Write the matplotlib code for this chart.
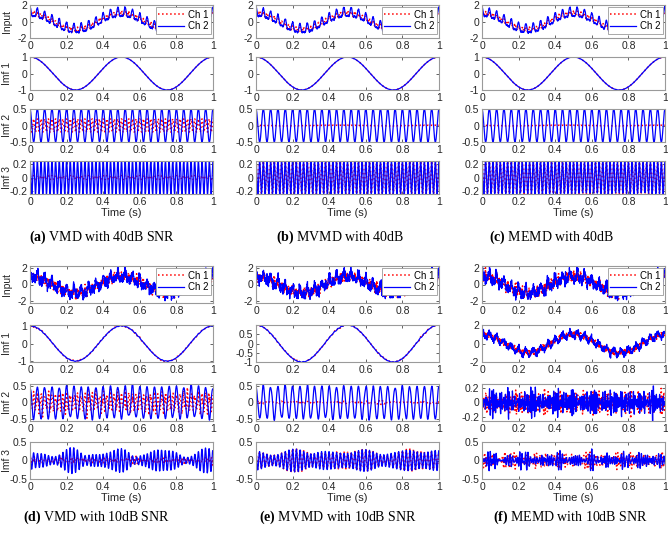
import numpy as np
import matplotlib
import matplotlib.pyplot as plt
matplotlib.use('Agg')

plt.rcParams['font.family'] = ['Liberation Sans', 'DejaVu Sans']
plt.rcParams['axes.unicode_minus'] = False
plt.rcParams['mathtext.fontset'] = 'custom'
plt.rcParams['mathtext.rm'] = 'Liberation Serif'
plt.rcParams['mathtext.bf'] = 'Liberation Serif:bold'

# time axis (1 s at 1 kHz)
t = np.linspace(0, 1, 1000)

# signal components: frequency (Hz) and amplitude
BASE_HZ = 2
MID_HZ = 25
HIGH_HZ = 50
CH1_AMPS = [1.0, 0.0, 0.25]   # 2 Hz, 25 Hz, 50 Hz
CH2_AMPS = [1.0, 0.5, 0.25]

# broadband "noise" made of fixed tones
NOISE_HZ = [31, 43, 61, 67, 83, 97, 109, 131, 149, 163, 181, 199,
            227, 241, 263, 293, 317, 349, 373, 401, 431, 457, 479, 491]
NOISE_BAND_HZ = [71, 79, 88, 94, 103, 112, 118, 127, 136, 141, 152, 160]
NOISE_LOW_HZ = [58, 63, 69, 74, 81, 86, 92, 99]
NOISE_MID_HZ = [41, 44, 47, 49, 53, 56, 58, 62]
# slow envelope tones (Hz, amplitude) seen on the 50 Hz modes
ENV_D = [(46, 0.07), (54, 0.06), (57, 0.04)]
ENV_E = [(45, 0.05), (53, 0.05), (47, 0.03)]

panel_tags = ['a', 'b', 'c', 'd', 'e', 'f']
panel_titles = ['VMD with 40dB SNR', 'MVMD with 40dB', 'MEMD with 40dB',
                'VMD with 10dB SNR', 'MVMD with 10dB SNR', 'MEMD with 10dB SNR']
row_names = ['Input', 'Imf 1', 'Imf 2', 'Imf 3']


def tone(f, a, ph=0.0):
    return a * np.cos(2 * np.pi * f * t + ph)


def noise(freqs, seed, scale):
    k = np.arange(len(freqs))
    ph = np.mod(np.sin(k * 12.9898 + seed * 78.233) * 43758.5453, 1.0) * 2 * np.pi
    amp = 0.6 + 0.4 * np.mod(np.sin(k * 4.1414 + seed * 3.17) * 9631.77, 1.0)
    s = sum(a * np.cos(2 * np.pi * f * t + p) for f, a, p in zip(freqs, amp, ph))
    return scale * s / s.std()


def beats(pairs, ph0=0.0):
    return sum(tone(f, a, ph0 + i * 1.3) for i, (f, a) in enumerate(pairs))


def mix(amps):
    return tone(BASE_HZ, amps[0]) + tone(MID_HZ, amps[1]) + tone(HIGH_HZ, amps[2])


in1 = mix(CH1_AMPS)
in2 = mix(CH2_AMPS)
imf1 = tone(BASE_HZ, 1.0)

# per panel: list of (ch1, ch2) for Input, Imf 1, Imf 2, Imf 3
data = []
# (a) VMD 40dB
data.append([(in1 + noise(NOISE_HZ, 1, 0.04), in2 + noise(NOISE_HZ, 2, 0.04)),
             (imf1, imf1),
             (tone(HIGH_HZ, 0.2), tone(MID_HZ, 0.5)),
             (tone(HIGH_HZ, 0.03), tone(HIGH_HZ, 0.25))])
# (b) MVMD 40dB
data.append([(in1 + noise(NOISE_HZ, 3, 0.04), in2 + noise(NOISE_HZ, 4, 0.04)),
             (imf1, imf1),
             (tone(HIGH_HZ, 0.01), tone(MID_HZ, 0.5)),
             (tone(HIGH_HZ, 0.25), tone(HIGH_HZ, 0.25))])
# (c) MEMD 40dB
data.append([(in1 + noise(NOISE_HZ, 5, 0.04), in2 + noise(NOISE_HZ, 6, 0.04)),
             (imf1, imf1),
             (tone(HIGH_HZ, 0.01), tone(MID_HZ, 0.5)),
             (tone(HIGH_HZ, 0.245) + noise(NOISE_MID_HZ, 7, 0.006),
              tone(HIGH_HZ, 0.245) + noise(NOISE_MID_HZ, 8, 0.006))])
# (d) VMD 10dB
data.append([(in1 + noise(NOISE_HZ, 11, 0.25), in2 + noise(NOISE_HZ, 12, 0.3)),
             (imf1 + noise(NOISE_MID_HZ, 13, 0.02), imf1 + noise(NOISE_MID_HZ, 14, 0.01)),
             (tone(HIGH_HZ, 0.22) + noise(NOISE_BAND_HZ, 15, 0.08),
              tone(MID_HZ, 0.47) + noise(NOISE_MID_HZ, 16, 0.03)),
             (tone(HIGH_HZ, 0.03) + noise(NOISE_LOW_HZ, 17, 0.045),
              tone(HIGH_HZ, 0.2) + beats(ENV_D))])
# (e) MVMD 10dB
data.append([(in1 + noise(NOISE_HZ, 21, 0.25), in2 + noise(NOISE_HZ, 22, 0.3)),
             (imf1 + noise(NOISE_MID_HZ, 23, 0.02), imf1 + noise(NOISE_MID_HZ, 24, 0.01)),
             (noise(NOISE_MID_HZ, 25, 0.02),
              tone(MID_HZ, 0.48) + noise(NOISE_MID_HZ, 26, 0.03)),
             (tone(HIGH_HZ, 0.22) + beats(ENV_E, 0.4),
              tone(HIGH_HZ, 0.22) + beats(ENV_E))])
# (f) MEMD 10dB
data.append([(in1 + noise(NOISE_HZ, 31, 0.25), in2 + noise(NOISE_HZ, 32, 0.3)),
             (imf1 + noise(NOISE_HZ, 33, 0.15),
              imf1 + tone(MID_HZ, 0.35) + noise(NOISE_HZ, 34, 0.15)),
             (noise(NOISE_BAND_HZ, 35, 0.07), noise(NOISE_BAND_HZ, 36, 0.08)),
             (noise(NOISE_LOW_HZ, 37, 0.1), noise(NOISE_LOW_HZ, 38, 0.1))])

# y limits and ticks per panel/row
ylims = [
    [(-2, 2), (-1, 1), (-0.5, 0.5), (-0.25, 0.25)],
    [(-2, 2), (-1, 1), (-0.5, 0.5), (-0.25, 0.25)],
    [(-2, 2), (-1, 1), (-0.5, 0.5), (-0.25, 0.25)],
    [(-2.3, 2.3), (-1.05, 1.05), (-0.55, 0.55), (-0.5, 0.5)],
    [(-2.3, 2.3), (-1.0, 1.0), (-0.55, 0.55), (-0.5, 0.5)],
    [(-2.2, 2.2), (-2, 2), (-0.25, 0.25), (-0.5, 0.5)],
]
yticks = [
    [[-2, 0, 2], [-1, 0, 1], [-0.5, 0, 0.5], [-0.2, 0, 0.2]],
    [[-2, 0, 2], [-1, 0, 1], [-0.5, 0, 0.5], [-0.2, 0, 0.2]],
    [[-2, 0, 2], [-1, 0, 1], [-0.5, 0, 0.5], [-0.2, 0, 0.2]],
    [[-2, 0, 2], [-1, 0, 1], [-0.5, 0, 0.5], [-0.5, 0, 0.5]],
    [[-2, 0, 2], [-1, -0.5, 0, 0.5], [-0.5, 0, 0.5], [-0.5, 0, 0.5]],
    [[-2, 0, 2], [-2, 0, 2], [-0.2, 0, 0.2], [-0.5, 0, 0.5]],
]

W, H = 668, 535
fig = plt.figure(figsize=(W / 100, H / 100), dpi=100)

col_left = [30, 256, 482]
ax_w = 183
group_tops = [[5, 57, 109, 161], [266, 325, 384, 442]]
group_h = [33, 37]
caption_x = [102, 340, 552, 97, 338, 570]
caption_y = [237, 517]

spine_c = '#9a9a9a'
text_c = '#262626'

for p in range(6):
    g = p // 3
    c = p % 3
    for r in range(4):
        top = group_tops[g][r]
        h = group_h[g]
        ax = fig.add_axes([col_left[c] / W, 1 - (top + h) / H, ax_w / W, h / H])
        y1, y2 = data[p][r]
        ax.plot(t, y1, color='red', linestyle=':', linewidth=1.1, label='Ch 1')
        ax.plot(t, y2, color='blue', linestyle='-', linewidth=0.9, label='Ch 2')
        ax.set_xlim(0, 1)
        ax.set_ylim(*ylims[p][r])
        ax.set_yticks(yticks[p][r])
        ax.set_yticklabels(['%g' % v for v in yticks[p][r]])
        ax.set_xticks([0, 0.2, 0.4, 0.6, 0.8, 1])
        ax.set_xticklabels(['0', '0.2', '0.4', '0.6', '0.8', '1'])
        ax.tick_params(direction='in', length=2, width=0.5, labelsize=7.5,
                       colors=text_c, pad=2, top=True, right=True)
        for s in ax.spines.values():
            s.set_color(spine_c)
            s.set_linewidth(0.8)
        if c == 0:
            ax.set_ylabel(row_names[r], fontsize=7.5, color=text_c)
            ax.yaxis.set_label_coords(-0.1, 0.5)
        if r == 0:
            leg = ax.legend(loc='upper right', fontsize=7, handlelength=2.6,
                            borderpad=0.25, labelspacing=0.15, handletextpad=0.4,
                            borderaxespad=0.25, fancybox=False, framealpha=1)
            leg.get_frame().set_edgecolor(spine_c)
            leg.get_frame().set_linewidth(0.6)
        if r == 3:
            ax.set_xlabel('Time (s)', fontsize=8, color=text_c, labelpad=1)

    fig.text(caption_x[p] / W, 1 - caption_y[g] / H,
             r'$\mathbf{(%s)}$ %s' % (panel_tags[p], panel_titles[p]),
             ha='center', va='center', fontsize=10, family='Liberation Serif')

fig.savefig('out.png', dpi=100)
